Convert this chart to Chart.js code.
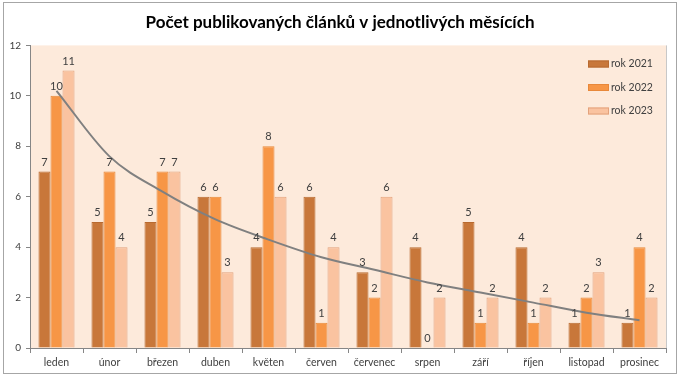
<!DOCTYPE html>
<html>
<head>
<meta charset="utf-8">
<script src="https://cdn.jsdelivr.net/npm/chart.js@4.4.1/dist/chart.umd.min.js"></script>
<style>
html,body{margin:0;padding:0;background:#fff;}
#wrap{position:relative;width:680px;height:378px;}
#frame{position:absolute;left:3px;top:2px;width:672px;height:370px;border:1px solid #a6a6a6;pointer-events:none;}
canvas{position:absolute;left:0;top:0;}
</style>
</head>
<body>
<div id="wrap"><canvas id="c" width="680" height="378"></canvas><div id="frame"></div></div>
<script>
const months = ["leden","únor","březen","duben","květen","červen","červenec","srpen","září","říjen","listopad","prosinec"];
const rok2021 = [7,5,5,6,4,6,3,4,5,4,1,1];
const rok2022 = [10,7,7,6,8,1,2,0,1,1,2,4];
const rok2023 = [11,4,7,3,6,4,6,2,2,2,3,2];
const trend = [10.2,7.6,6.2,5.1,4.3,3.6,3.1,2.6,2.2,1.8,1.4,1.1];
const yTicks = [0,2,4,6,8,10,12];
const titleText = "Počet publikovaných článků v jednotlivých měsících";

const FONT = "Lato, 'Open Sans', sans-serif";
const colors = ["#c8773a","#f79646","#fac3a0"];
const borders = ["#b86a30","#e8883a","#e3a27c"];

const bgPlugin = {
  id:'bg',
  beforeDraw(chart){
    const {ctx, chartArea:a} = chart;
    ctx.save();
    ctx.fillStyle = "#fdeadb";
    ctx.fillRect(a.left, a.top, a.right-a.left, a.bottom-a.top);
    ctx.strokeStyle = "#c8c8c8";
    ctx.lineWidth = 1;
    ctx.beginPath();
    ctx.moveTo(Math.round(a.right)+0.5, a.top);
    ctx.lineTo(Math.round(a.right)+0.5, a.bottom);
    ctx.stroke();
    ctx.restore();
  }
};

const labelPlugin = {
  id:'vlabels',
  afterDatasetsDraw(chart){
    const ctx = chart.ctx;
    ctx.save();
    ctx.font = "11px " + FONT;
    ctx.fillStyle = "#404040";
    ctx.textAlign = "center";
    ctx.textBaseline = "bottom";
    chart.data.datasets.forEach((ds, di) => {
      if (ds.type === 'line') return;
      const meta = chart.getDatasetMeta(di);
      meta.data.forEach((el, i) => {
        ctx.fillText(String(ds.data[i]), el.x, el.y - 4);
      });
    });
    ctx.restore();
  }
};

const legendPlugin = {
  id:'customLegend',
  afterDraw(chart){
    const ctx = chart.ctx;
    const items = chart.data.datasets.filter(d => d.type !== 'line');
    ctx.save();
    ctx.font = "10.5px " + FONT;
    ctx.textBaseline = "middle";
    ctx.textAlign = "left";
    items.forEach((d, i) => {
      const y = 64 + i*23.5;
      ctx.fillStyle = d.backgroundColor;
      ctx.fillRect(588, y-3.5, 21, 7);
      ctx.strokeStyle = d.borderColor;
      ctx.lineWidth = 1;
      ctx.strokeRect(588.5, y-3, 20, 6);
      ctx.fillStyle = "#404040";
      ctx.fillText(d.label, 611, y);
    });
    ctx.restore();
  }
};

const barDs = [rok2021, rok2022, rok2023].map((arr, i) => ({
  type:'bar',
  label: "rok " + (2021+i),
  data: arr,
  backgroundColor: colors[i],
  borderColor: borders[i],
  borderWidth: 1,
  categoryPercentage: 0.68,
  barPercentage: 1.0,
  order: 1
}));

new Chart(document.getElementById('c'), {
  data: {
    labels: months,
    datasets: [
      {type:'line', label:'trend', data: trend, borderColor:'#808080', borderWidth:2, pointRadius:0, tension:0.4, cubicInterpolationMode:'monotone', fill:false, order:0},
      ...barDs
    ]
  },
  options: {
    responsive:false,
    animation:false,
    layout:{padding:{left:0,right:0,top:0,bottom:0}},
    plugins:{
      legend:{display:false},
      tooltip:{enabled:false},
      title:{
        display:true,
        text:titleText,
        color:"#000",
        font:{family:FONT, size:17, weight:'bold'},
        padding:{top:12,bottom:13}
      }
    },
    scales:{
      x:{
        offset:true,
        grid:{display:true, drawOnChartArea:false, drawTicks:true, tickLength:5, color:"#868686", offset:true},
        border:{display:true, color:"#868686"},
        ticks:{color:"#404040", font:{family:FONT, size:10.5}, padding:3, maxRotation:0, autoSkip:false},
        afterFit(s){ s.height = 30; }
      },
      y:{
        min:0, max:12,
        afterBuildTicks(s){ s.ticks = yTicks.map(v => ({value:v})); },
        grid:{display:true, drawOnChartArea:false, drawTicks:true, tickLength:4, color:"#868686"},
        border:{display:true, color:"#868686"},
        ticks:{color:"#404040", font:{family:FONT, size:10}, padding:5},
        afterFit(s){ s.width = 30; }
      },
      yr:{
        position:'right',
        min:0, max:12,
        grid:{display:false},
        border:{display:false},
        ticks:{display:false},
        afterFit(s){ s.width = 14; }
      }
    }
  },
  plugins:[bgPlugin, labelPlugin, legendPlugin]
});
</script>
</body>
</html>
